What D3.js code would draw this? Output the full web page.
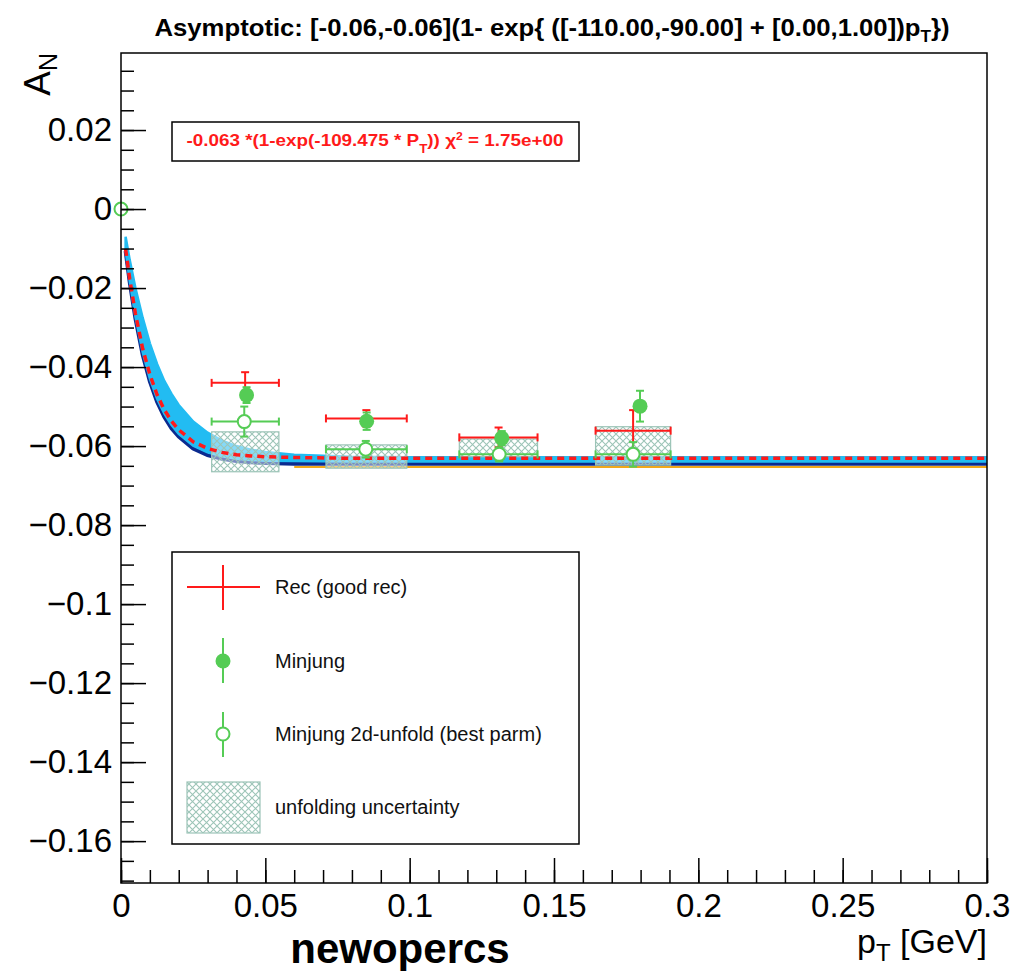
<!DOCTYPE html>
<html>
<head>
<meta charset="utf-8">
<script src="https://cdn.jsdelivr.net/npm/d3@7"></script>
<style>
  body { margin: 0; background: #fff; }
  text { font-family: "Liberation Sans", Arial, sans-serif; }
</style>
</head>
<body>
<svg id="chart" width="1014" height="971"></svg>
<script>
// ---- data ----
// bin edges (pT) shared by rec / unfold / uncertainty boxes
let binLo = [0.0314, 0.0710, 0.1172, 0.1644],
    binHi = [0.0547, 0.0990, 0.1443, 0.1904];

// Rec (good rec): first entry is the stray point at the origin
let recPt  = [0.0, 0.0430, 0.0850, 0.1308, 0.1774],
    recA   = [0.0, -0.0440, -0.0530, -0.0578, -0.0561],
    recErr = [0.0, 0.0027, 0.0021, 0.0025, 0.0052];

// Minjung (filled)
let mjPt  = [0.0435, 0.0851, 0.1319, 0.1798],
    mjA   = [-0.0471, -0.0537, -0.0580, -0.0499],
    mjErr = [0.0020, 0.0022, 0.0018, 0.0039];

// Minjung 2d-unfold (open), first entry at origin
let unPt  = [0.0, 0.0427, 0.0848, 0.1310, 0.1774],
    unA   = [0.0, -0.0538, -0.0608, -0.0621, -0.0621],
    unErr = [0.0, 0.0038, 0.0021, 0.0018, 0.0031];

// unfolding uncertainty boxes (A low / high)
let boxLo = [-0.0665, -0.0656, -0.0627, -0.0648],
    boxHi = [-0.0564, -0.0597, -0.0582, -0.0551];

// curves
let curvePt   = [0.0016, 0.003, 0.005, 0.0075, 0.01, 0.0125, 0.015, 0.0175, 0.02, 0.025, 0.03,
                 0.035, 0.04, 0.045, 0.05, 0.06, 0.08, 0.1, 0.15, 0.2, 0.25, 0.3];
let fitA      = [-0.0101, -0.0176, -0.0265, -0.0353, -0.0419, -0.0470, -0.0508, -0.0537, -0.0559, -0.0589, -0.0606,
                 -0.0616, -0.0622, -0.0625, -0.0627, -0.0629, -0.0631, -0.0631, -0.0631, -0.0631, -0.0631, -0.0631];
let bandUpA   = [-0.0070, -0.0128, -0.0200, -0.0275, -0.0340, -0.0392, -0.0435, -0.0468, -0.0496, -0.0538, -0.0566,
                 -0.0586, -0.0600, -0.0609, -0.0615, -0.0622, -0.0627, -0.0628, -0.0628, -0.0628, -0.0628, -0.0628];
let bandLoA   = [-0.0104, -0.0181, -0.0272, -0.0362, -0.0429, -0.0480, -0.0518, -0.0547, -0.0569, -0.0599, -0.0616,
                 -0.0626, -0.0632, -0.0635, -0.0637, -0.0638, -0.0639, -0.0639, -0.0639, -0.0639, -0.0639, -0.0639];
let navyA     = [-0.0106, -0.0184, -0.0277, -0.0368, -0.0436, -0.0488, -0.0526, -0.0555, -0.0576, -0.0606, -0.0623,
                 -0.0632, -0.0638, -0.0641, -0.0643, -0.0645, -0.0645, -0.0645, -0.0645, -0.0645, -0.0645, -0.0645];
let orangePt  = [0.06, 0.3],
    orangeA   = [-0.0653, -0.0653];

// ticks
let xTicks = [0, 0.05, 0.1, 0.15, 0.2, 0.25, 0.3],
    xTickLabels = ["0", "0.05", "0.1", "0.15", "0.2", "0.25", "0.3"];
let yTicks = [0.02, 0, -0.02, -0.04, -0.06, -0.08, -0.1, -0.12, -0.14, -0.16],
    yTickLabels = ["0.02", "0", "\u22120.02", "\u22120.04", "\u22120.06", "\u22120.08", "\u22120.1",
                   "\u22120.12", "\u22120.14", "\u22120.16"];

let legendLabels = ["Rec (good rec)", "Minjung", "Minjung 2d-unfold (best parm)", "unfolding uncertainty"];

// ---- colours ----
let red = "#ff1a1a", green = "#55cc55", lightBlue = "#22bcf2", navy = "#0b2a8f",
    orange = "#f0a81c", hatchCol = "#9cc4b7";

// ---- frame / scales ----
let frame = {left: 121, right: 987, top: 53, bottom: 883};

let svg = d3.select("#chart");
svg.append("rect").attr("width", 1014).attr("height", 971).attr("fill", "#fff");

let xScale = d3.scaleLinear().domain([0, 0.3]).range([frame.left, frame.right]);
let yScale = d3.scaleLinear().domain([-0.1706, 0.0395]).range([frame.bottom, frame.top]);

// hatch pattern
let defs = svg.append("defs");
let pat = defs.append("pattern")
    .attr("id", "hatch")
    .attr("width", 7).attr("height", 7)
    .attr("patternUnits", "userSpaceOnUse");
pat.append("rect").attr("width", 7).attr("height", 7).attr("fill", "#fff").attr("fill-opacity", 0.45);
pat.append("path").attr("d", "M0,0L7,7M7,0L0,7").attr("stroke", hatchCol).attr("stroke-width", 1.1);

defs.append("clipPath").attr("id", "clip")
    .append("rect")
    .attr("x", frame.left).attr("y", frame.top)
    .attr("width", frame.right - frame.left).attr("height", frame.bottom - frame.top);

let plot = svg.append("g").attr("clip-path", "url(#clip)");

// ---- curves ----
let line = d3.line().x(d => xScale(d[0])).y(d => yScale(d[1]));

plot.append("path")
    .datum(orangePt.map((p, i) => [p, orangeA[i]]))
    .attr("d", line)
    .attr("fill", "none").attr("stroke", orange).attr("stroke-width", 2);

plot.append("path")
    .datum(curvePt.map((p, i) => [p, navyA[i]]))
    .attr("d", line)
    .attr("fill", "none").attr("stroke", navy).attr("stroke-width", 4);

let band = d3.area()
    .x(d => xScale(d.pt))
    .y0(d => yScale(d.lo))
    .y1(d => yScale(d.hi));

plot.append("path")
    .datum(curvePt.map((p, i) => ({pt: p, lo: bandLoA[i], hi: bandUpA[i]})))
    .attr("d", band)
    .attr("fill", lightBlue)
    .attr("stroke", lightBlue).attr("stroke-width", 2.5);

// uncertainty boxes
plot.selectAll("rect.unc")
    .data(boxLo.map((lo, i) => ({x0: binLo[i], x1: binHi[i], lo: lo, hi: boxHi[i]})))
    .join("rect")
    .attr("class", "unc")
    .attr("x", d => xScale(d.x0))
    .attr("width", d => xScale(d.x1) - xScale(d.x0))
    .attr("y", d => yScale(d.hi))
    .attr("height", d => yScale(d.lo) - yScale(d.hi))
    .attr("fill", "url(#hatch)")
    .attr("stroke", hatchCol).attr("stroke-width", 1.2);

// fit (red dashed)
plot.append("path")
    .datum(curvePt.map((p, i) => [p, fitA[i]]))
    .attr("d", line)
    .attr("fill", "none").attr("stroke", red)
    .attr("stroke-width", 3.5).attr("stroke-dasharray", "7,5");

// ---- error bars ----
function errorBars(g, pts, color, cap) {
    pts.forEach(d => {
        let cx = xScale(d.pt), cy = yScale(d.a);
        if (d.x0 !== undefined && d.x1 > d.x0) {
            let xa = xScale(d.x0), xb = xScale(d.x1);
            g.append("line").attr("x1", xa).attr("x2", xb).attr("y1", cy).attr("y2", cy)
                .attr("stroke", color).attr("stroke-width", 2);
            [xa, xb].forEach(xx => g.append("line")
                .attr("x1", xx).attr("x2", xx).attr("y1", cy - cap).attr("y2", cy + cap)
                .attr("stroke", color).attr("stroke-width", 2));
        }
        if (d.err > 0) {
            let ya = yScale(d.a + d.err), yb = yScale(d.a - d.err);
            g.append("line").attr("x1", cx).attr("x2", cx).attr("y1", ya).attr("y2", yb)
                .attr("stroke", color).attr("stroke-width", 2);
            [ya, yb].forEach(yy => g.append("line")
                .attr("x1", cx - cap).attr("x2", cx + cap).attr("y1", yy).attr("y2", yy)
                .attr("stroke", color).attr("stroke-width", 2));
        }
    });
}

let marks = svg.append("g");

// Rec
let recData = recPt.map((p, i) => ({
    pt: p, a: recA[i], err: recErr[i],
    x0: i === 0 ? 0 : binLo[i - 1], x1: i === 0 ? 0 : binHi[i - 1]
}));
errorBars(marks, recData, red, 4);
marks.append("circle")
    .attr("cx", xScale(recPt[0])).attr("cy", yScale(recA[0])).attr("r", 1.5).attr("fill", red);

// Minjung 2d-unfold (open)
let unData = unPt.map((p, i) => ({
    pt: p, a: unA[i], err: unErr[i],
    x0: i === 0 ? 0 : binLo[i - 1], x1: i === 0 ? 0 : binHi[i - 1]
}));
errorBars(marks, unData, green, 4);
marks.selectAll("circle.open")
    .data(unData)
    .join("circle")
    .attr("class", "open")
    .attr("cx", d => xScale(d.pt)).attr("cy", d => yScale(d.a))
    .attr("r", 6.5)
    .attr("fill", "#fff").attr("stroke", green).attr("stroke-width", 2);

// Minjung (filled)
let mjData = mjPt.map((p, i) => ({pt: p, a: mjA[i], err: mjErr[i]}));
errorBars(marks, mjData, green, 4);
marks.selectAll("circle.filled")
    .data(mjData)
    .join("circle")
    .attr("class", "filled")
    .attr("cx", d => xScale(d.pt)).attr("cy", d => yScale(d.a))
    .attr("r", 7.5)
    .attr("fill", green);

// ---- frame and axes ----
svg.append("rect")
    .attr("x", frame.left).attr("y", frame.top)
    .attr("width", frame.right - frame.left).attr("height", frame.bottom - frame.top)
    .attr("fill", "none").attr("stroke", "#000").attr("stroke-width", 1.5);

let yMinor = d3.range(-34, 8).map(k => k * 0.005);
let xMinor = d3.range(0, 31).map(k => k * 0.01);

let yAxis = d3.axisLeft(yScale)
    .tickValues(yTicks)
    .tickFormat((d, i) => yTickLabels[i])
    .tickSizeInner(-25).tickSizeOuter(0).tickPadding(9);
let yAxisMinor = d3.axisLeft(yScale)
    .tickValues(yMinor).tickFormat("")
    .tickSizeInner(-13).tickSizeOuter(0);

let xAxis = d3.axisBottom(xScale)
    .tickValues(xTicks)
    .tickFormat((d, i) => xTickLabels[i])
    .tickSizeInner(-25).tickSizeOuter(0).tickPadding(11);
let xAxisMinor = d3.axisBottom(xScale)
    .tickValues(xMinor).tickFormat("")
    .tickSizeInner(-13).tickSizeOuter(0);

function styleAxis(g) {
    g.select(".domain").remove();
    g.selectAll(".tick line").attr("stroke", "#000").attr("stroke-width", 1.5);
    g.selectAll(".tick text")
        .attr("fill", "#000")
        .style("font-family", "'Liberation Sans', Arial, sans-serif")
        .style("font-size", "33px");
}

svg.append("g").attr("transform", `translate(${frame.left},0)`).call(yAxisMinor).call(styleAxis);
svg.append("g").attr("transform", `translate(${frame.left},0)`).call(yAxis).call(styleAxis);
svg.append("g").attr("transform", `translate(0,${frame.bottom})`).call(xAxisMinor).call(styleAxis);
svg.append("g").attr("transform", `translate(0,${frame.bottom})`).call(xAxis).call(styleAxis);

// axis titles
let yt = svg.append("text")
    .attr("transform", `translate(50,${frame.top}) rotate(-90)`)
    .attr("text-anchor", "end")
    .style("font-size", "37px");
yt.append("tspan").text("A");
yt.append("tspan").attr("dy", 7).style("font-size", "25px").text("N");

let xt = svg.append("text")
    .attr("x", frame.right).attr("y", 953)
    .attr("text-anchor", "end")
    .style("font-size", "34px");
xt.append("tspan").text("p");
xt.append("tspan").attr("dy", 8).style("font-size", "24px").text("T");
xt.append("tspan").attr("dy", -8).text(" [GeV]");

svg.append("text")
    .attr("x", 400).attr("y", 963)
    .attr("text-anchor", "middle")
    .style("font-size", "42px").style("font-weight", "bold")
    .text("newopercs");

// title
let title = svg.append("text")
    .attr("x", 552).attr("y", 36)
    .attr("text-anchor", "middle")
    .attr("textLength", 795).attr("lengthAdjust", "spacingAndGlyphs")
    .style("font-size", "24px").style("font-weight", "bold");
title.append("tspan").text("Asymptotic: [-0.06,-0.06](1- exp{ ([-110.00,-90.00] + [0.00,1.00])p");
title.append("tspan").attr("dy", 6).style("font-size", "16px").text("T");
title.append("tspan").attr("dy", -6).text("})");

// fit box
svg.append("rect")
    .attr("x", 172).attr("y", 122).attr("width", 407).attr("height", 39)
    .attr("fill", "#fff").attr("stroke", "#000").attr("stroke-width", 1.5);
let ft = svg.append("text")
    .attr("x", 375).attr("y", 146)
    .attr("text-anchor", "middle")
    .attr("textLength", 377).attr("lengthAdjust", "spacingAndGlyphs")
    .attr("fill", red)
    .style("font-size", "17px").style("font-weight", "bold");
ft.append("tspan").text("-0.063 *(1-exp(-109.475 * P");
ft.append("tspan").attr("dy", 7).style("font-size", "12px").text("T");
ft.append("tspan").attr("dy", -7).text("))  \u03c7");
ft.append("tspan").attr("dy", -6).style("font-size", "11px").text("2");
ft.append("tspan").attr("dy", 6).text(" = 1.75e+00");

// ---- legend ----
let leg = svg.append("g");
leg.append("rect")
    .attr("x", 172).attr("y", 552).attr("width", 407).attr("height", 292)
    .attr("fill", "#fff").attr("stroke", "#000").attr("stroke-width", 1.5);

let rowY = [587, 661, 734, 807], symX = 223;

leg.append("line").attr("x1", 187).attr("x2", 260).attr("y1", rowY[0]).attr("y2", rowY[0])
    .attr("stroke", red).attr("stroke-width", 2);
leg.append("line").attr("x1", symX).attr("x2", symX).attr("y1", rowY[0] - 22).attr("y2", rowY[0] + 23)
    .attr("stroke", red).attr("stroke-width", 2);

leg.append("line").attr("x1", symX).attr("x2", symX).attr("y1", rowY[1] - 23).attr("y2", rowY[1] + 22)
    .attr("stroke", green).attr("stroke-width", 2);
leg.append("circle").attr("cx", symX).attr("cy", rowY[1]).attr("r", 7.5).attr("fill", green);

leg.append("line").attr("x1", symX).attr("x2", symX).attr("y1", rowY[2] - 22).attr("y2", rowY[2] + 23)
    .attr("stroke", green).attr("stroke-width", 2);
leg.append("circle").attr("cx", symX).attr("cy", rowY[2]).attr("r", 6.5)
    .attr("fill", "#fff").attr("stroke", green).attr("stroke-width", 2);

leg.append("rect").attr("x", 187).attr("y", 782).attr("width", 73).attr("height", 51)
    .attr("fill", "url(#hatch)").attr("stroke", hatchCol).attr("stroke-width", 1.2);

leg.selectAll("text.lbl")
    .data(legendLabels)
    .join("text")
    .attr("class", "lbl")
    .attr("x", 275).attr("y", (d, i) => rowY[i] + 7)
    .style("font-size", "20px")
    .attr("fill", "#111")
    .text(d => d);
</script>
</body>
</html>
